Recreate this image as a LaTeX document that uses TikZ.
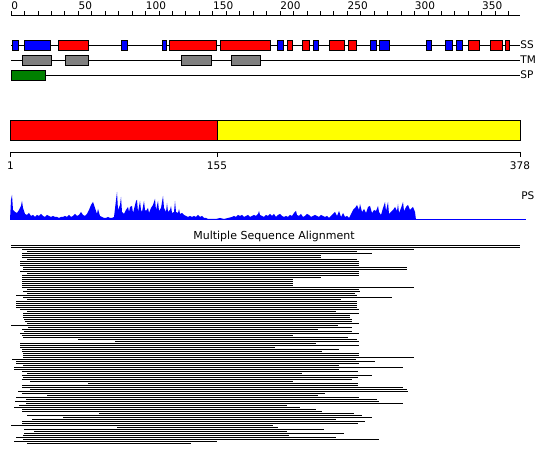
\documentclass[tikz,border=0pt]{standalone}
\usepackage{fontspec}
\setmainfont{DejaVu Sans}
\usepackage{tikz}
\usetikzlibrary{positioning}
\definecolor{helixred}{HTML}{FF0000}
\definecolor{strandblue}{HTML}{0000FF}
\definecolor{tmgrey}{HTML}{808080}
\definecolor{spgreen}{HTML}{008000}
\definecolor{domyellow}{HTML}{FFFF00}

\begin{document}
\begin{tikzpicture}[x=1pt, y=-1pt, font=\fontsize{10.5}{12}\selectfont, line width=0.8pt,
    featbox/.style={draw=black, line width=0.8pt},
    tracklbl/.style={anchor=west, inner sep=0pt},
    aln/.style={line width=1.35pt}]
  \useasboundingbox (0,0) rectangle (550,465);

  \draw (11,15) -- (520,15);
  \foreach \i in {0,...,37}
    \draw ({11+\i*13.45},15) -- ({11+\i*13.45},11);
  \foreach \v [count=\k from 0] in {0,50,...,350}
    \node[anchor=base west, inner sep=0pt] (pos\v) at ({11+\k*67.25},10) {\v};

  \draw (11,45) -- (520,45);
  \foreach \a/\b/\c in {12/18/strandblue, 24/50/strandblue, 58/88/helixred, 121/127/strandblue,
      162/166/strandblue, 169/216/helixred, 220/270/helixred, 277/283/strandblue,
      287/292/helixred, 302/309/helixred, 313/318/strandblue, 329/344/helixred,
      348/356/helixred, 370/376/strandblue, 379/389/strandblue, 426/431/strandblue,
      445/452/strandblue, 456/462/strandblue, 468/479/helixred, 490/502/helixred,
      505/509/helixred}
    \filldraw[featbox, fill=\c] (\a,40) rectangle (\b,50);
  \node[tracklbl] (sslbl) at (520,45) {SS};

  \draw (11,60) -- (520,60);
  \foreach \a/\b in {22/51, 65/88, 181/211, 231/260}
    \filldraw[featbox, fill=tmgrey] (\a,55) rectangle (\b,65);
  \node[tracklbl] (tmlbl) at (520,60) {TM};

  \draw (11,75) -- (520,75);
  \filldraw[featbox, fill=spgreen] (11,70) rectangle (45,80);
  \node[tracklbl] (splbl) at (520,75) {SP};

  \filldraw[featbox, fill=helixred] (10.5,120) rectangle (217,140);
  \filldraw[featbox, fill=domyellow] (217,120) rectangle (520,140);
  \draw (10.5,152) -- (520,152);
  \foreach \x/\v in {10.5/1, 217/155, 520/378} {
    \draw (\x,152) -- (\x,157);
    \node[anchor=north, inner sep=0pt] (bnd\v) at (\x,161) {\v};
  }

  \fill[strandblue] (10,220) \foreach \x/\h in {11/20, 12/25, 13/10, 15/8, 17/7, 19/10, 21/14, 22/19,
      23/12, 25/6, 27/5, 29/7, 31/4, 33/5, 35/3, 37/5, 39/4, 41/6, 43/4, 45/3, 47/5, 49/4,
      51/3, 53/4, 55/3, 57/3, 59/2, 61/3, 63/3, 65/4, 67/3, 69/5, 71/3, 73/4, 75/6, 77/4,
      79/5, 81/8, 83/5, 85/4, 87/6, 89/10, 91/15, 93/18, 95/12, 97/6, 98/11, 100/4, 102/3,
      104/2, 106/2, 108/3, 110/2, 112/2, 114/3, 116/20, 117/28, 118/10, 120/15, 121/23,
      122/8, 124/6, 126/10, 128/13, 129/8, 130/13, 132/14, 133/7, 134/11, 136/19, 137/20,
      138/8, 140/19, 141/10, 142/8, 144/19, 145/10, 146/9, 148/12, 149/7, 151/12, 153/15,
      155/21, 156/10, 158/19, 159/9, 161/12, 163/24, 164/12, 166/8, 167/17, 168/8, 170/10,
      171/14, 172/7, 174/8, 175/19, 176/8, 178/7, 179/11, 180/6, 182/7, 184/5, 186/4,
      188/3, 190/4, 192/3, 194/4, 196/3, 198/5, 200/3, 202/4, 204/2, 206/2, 208/1, 212/1,
      216/1, 220/2, 224/1, 228/2, 232/3, 234/4, 236/3, 238/5, 240/4, 242/5, 244/3, 246/4,
      248/5, 250/3, 252/4, 254/5, 256/4, 258/6, 259/9, 260/5, 262/4, 264/3, 266/5, 268/4,
      270/6, 272/4, 274/6, 276/3, 278/5, 280/6, 282/4, 284/3, 286/4, 288/3, 290/5, 292/4,
      294/7, 296/9, 297/5, 299/4, 301/6, 303/3, 305/4, 307/6, 309/5, 311/3, 313/4, 315/5,
      317/4, 319/3, 321/5, 323/4, 325/3, 327/4, 329/2, 331/4, 333/6, 335/8, 337/4, 339/9,
      341/3, 343/7, 345/3, 347/4, 349/2, 351/6, 353/10, 355/12, 357/15, 359/10, 360/16,
      362/8, 364/11, 366/7, 368/13, 370/14, 372/7, 374/10, 376/9, 378/14, 379/8, 381/5,
      383/12, 385/18, 386/9, 388/18, 389/6, 391/8, 393/10, 395/13, 397/9, 398/16, 399/7,
      401/12, 403/18, 404/9, 406/13, 408/15, 410/10, 412/12, 413/13, 415/8}
    { -- (\x,{220-\h}) } -- (416,220) -- cycle;
  \draw[strandblue, line width=1pt] (10,220) -- (526,220);
  \node[tracklbl] (pslbl) at (521,196) {PS};

  \node[font=\fontsize{11}{13}\selectfont] (msalbl) at (274,236) {Multiple Sequence Alignment};
  \foreach \s/\e [count=\n from 0] in {11/520, 11/520, 22/414, 27/357, 22/372, 22/321,
      22/321, 27/357, 20/359, 20/359, 20/359, 23/407, 23/407, 20/359, 27/359, 22/359,
      22/321, 22/293, 22/293, 22/293, 22/293, 22/414, 27/359, 23/360, 27/355, 16/357,
      23/392, 27/341, 16/357, 16/357, 16/357, 16/357, 20/359, 27/336, 23/359, 23/350,
      23/350, 24/352, 25/352, 27/359, 11/338, 28/352, 22/318, 24/352, 20/359, 22/293,
      23/348, 78/357, 115/359, 20/316, 20/359, 20/275, 22/339, 22/322, 23/359, 23/359,
      23/414, 12/356, 16/375, 16/359, 23/339, 14/403, 14/339, 22/358, 27/302, 22/372,
      23/358, 22/352, 30/293, 88/358, 22/358, 22/403, 30/407, 18/408, 22/325, 47/318,
      16/359, 26/377, 15/379, 26/403, 19/287, 14/300, 22/316, 22/322, 99/354, 27/362,
      63/372, 32/336, 22/365, 22/358, 11/273, 117/278, 24/324, 34/287, 24/344, 23/289,
      16/336, 23/379, 14/217, 27/191}
    \draw[aln] (\s,{245.5+2*\n}) -- (\e,{245.5+2*\n});
\end{tikzpicture}
\end{document}
